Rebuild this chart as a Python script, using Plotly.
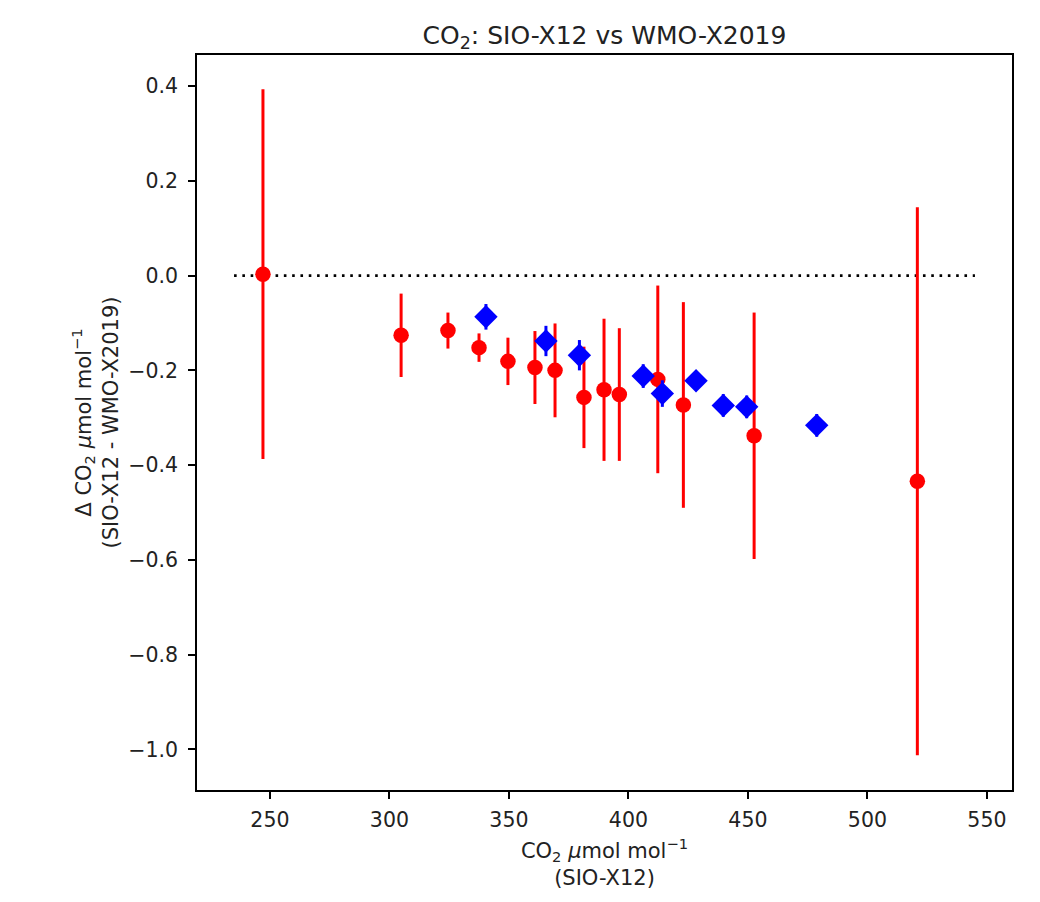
import plotly.graph_objects as go

# Red series (circles)
red_x = [247.1, 304.9, 324.5, 337.5, 349.6, 360.9, 369.3, 381.4, 389.8, 396.2, 412.3, 423.0, 452.6, 520.9]
red_y = [0.003, -0.126, -0.116, -0.152, -0.181, -0.194, -0.200, -0.257, -0.241, -0.251, -0.219, -0.273, -0.338, -0.434]
red_err = [0.390, 0.088, 0.038, 0.030, 0.050, 0.077, 0.099, 0.107, 0.150, 0.140, 0.198, 0.217, 0.260, 0.578]

# Blue series (diamonds)
blue_x = [340.4, 365.5, 379.5, 406.2, 414.2, 428.3, 439.7, 449.5, 478.8]
blue_y = [-0.087, -0.138, -0.168, -0.212, -0.249, -0.222, -0.274, -0.277, -0.316]
blue_err = [0.027, 0.032, 0.032, 0.025, 0.028, 0.014, 0.024, 0.024, 0.024]

# Zero reference line extent
ref_x = [235, 545]
ref_y = [0, 0]

x_ticks = [250, 300, 350, 400, 450, 500, 550]
y_ticks = [-1.0, -0.8, -0.6, -0.4, -0.2, 0.0, 0.2, 0.4]

W, H = 1032, 894
L, T = 189, 47
PW, PH = 815, 735

fig = go.Figure()

fig.add_trace(go.Scatter(
    x=ref_x, y=ref_y, mode="lines",
    line=dict(color="black", width=2.6, dash="2.6px,5.7px"),
    showlegend=False, hoverinfo="skip"))

fig.add_trace(go.Scatter(
    x=red_x, y=red_y, mode="markers",
    marker=dict(symbol="circle", size=15.5, color="red", line=dict(width=0)),
    error_y=dict(type="data", array=red_err, visible=True, color="red", thickness=3, width=0),
    showlegend=False))

fig.add_trace(go.Scatter(
    x=blue_x, y=blue_y, mode="markers",
    marker=dict(symbol="diamond", size=18, color="blue", line=dict(width=0)),
    error_y=dict(type="data", array=blue_err, visible=True, color="blue", thickness=3, width=0),
    showlegend=False))

font_family = "DejaVu Sans"
tick_size = 20.5
label_size = 21

fig.update_layout(
    width=W, height=H,
    margin=dict(l=L, r=W - L - PW, t=T, b=H - T - PH),
    paper_bgcolor="white", plot_bgcolor="white",
    font=dict(family=font_family, size=tick_size, color="black"),
    title=dict(text="CO<sub>2</sub>: SIO-X12 vs WMO-X2019",
               x=(L + PW / 2) / W, xanchor="center",
               y=1 - 27 / H, yanchor="middle",
               font=dict(size=25, family=font_family, color="#222")),
)

fig.update_xaxes(
    range=[219.5, 560.5], tickvals=x_ticks, ticktext=[str(t) for t in x_ticks],
    showgrid=False, zeroline=False,
    showline=True, mirror=True, linecolor="black", linewidth=1.5,
    ticks="outside", ticklen=7, tickcolor="black", tickwidth=1.5,
    tickfont=dict(size=tick_size, color="#222"), ticklabelstandoff=4,
    title=dict(text="CO<sub>2</sub> <i>μ</i>mol mol<sup>−1</sup><br>(SIO-X12)",
               font=dict(size=label_size, color="#222"), standoff=12),
)

fig.update_yaxes(
    range=[-1.0855, 0.4655], tickvals=y_ticks,
    ticktext=[("−" if t < 0 else "") + f"{abs(t):.1f}" for t in y_ticks],
    showgrid=False, zeroline=False,
    showline=True, mirror=True, linecolor="black", linewidth=1.5,
    ticks="outside", ticklen=7, tickcolor="black", tickwidth=1.5,
    tickfont=dict(size=tick_size, color="#222"), ticklabelstandoff=6,
    title=dict(text="Δ CO<sub>2</sub> <i>μ</i>mol mol<sup>−1</sup><br>(SIO-X12 - WMO-X2019)",
               font=dict(size=label_size, color="#222"), standoff=4),
)

fig.write_html("out.html")
